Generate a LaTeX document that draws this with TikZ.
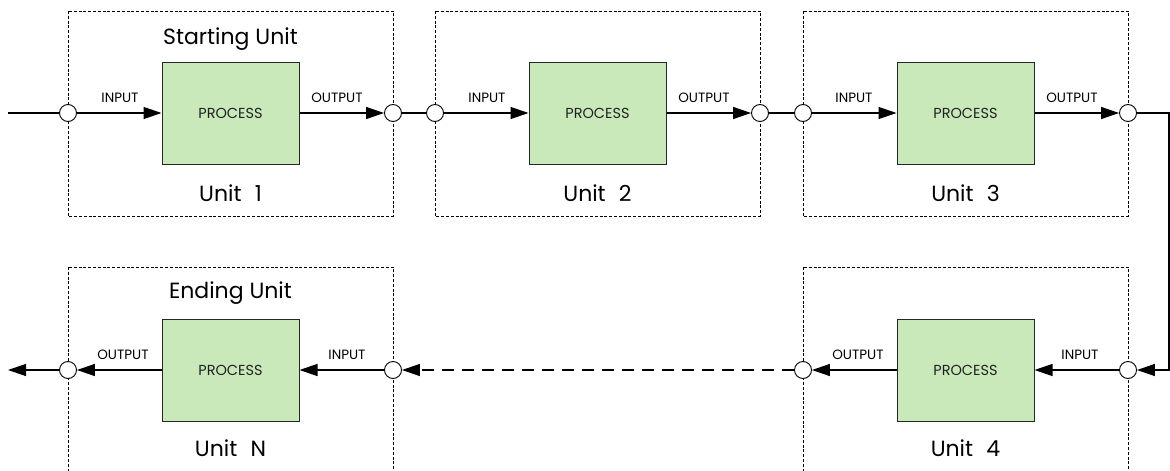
\documentclass[tikz,border=0pt]{standalone}
\usepackage{fontspec}
\setmainfont{Poppins}
\usetikzlibrary{arrows.meta}
\definecolor{procgreen}{HTML}{C9E9BA}
\definecolor{inkgray}{HTML}{222222}
\begin{document}
\begin{tikzpicture}[x=1pt,y=-1pt,
  unitbox/.style={draw=black, line width=0.8pt, dash pattern=on 3pt off 1.8pt},
  port/.style={circle, draw=black, fill=white, line width=0.9pt, inner sep=0pt, minimum size=17pt},
  proc/.style={draw=black!85, fill=procgreen, line width=1pt, minimum width=137pt, minimum height=102pt,
    inner sep=0pt, text=inkgray, font=\fontsize{14.5}{16}\selectfont},
  small/.style={inner sep=0pt, text=black, font=\fontsize{13.5}{15}\selectfont},
  title/.style={inner sep=0pt, text=black, font=\fontsize{22}{25}\selectfont},
  flow/.style={line width=1.3pt, draw=black},
  tip/.style={-{Triangle[length=18pt,width=12pt]}},
  link/.style={flow, dash pattern=on 12pt off 8pt}]

\useasboundingbox (0,0) rectangle (1170,471);
\clip (0,0) rectangle (1170,471);

% dashed unit frames
\draw[unitbox] (68,11) rectangle (393,216);
\draw[unitbox] (435,11) rectangle (760,216);
\draw[unitbox] (803,11) rectangle (1128,216);
\draw[unitbox] (803,267) rectangle (1128,520);
\draw[unitbox] (68,267) rectangle (393,520);

% process blocks
\node[proc] (b1) at (230.5,113) {PROCESS};
\node[proc] (b2) at (597.5,113) {PROCESS};
\node[proc] (b3) at (965.5,113) {PROCESS};
\node[proc] (b4) at (965.5,370) {PROCESS};
\node[proc] (bN) at (230.5,370) {PROCESS};

% unit titles
\node[title] (t1) at (230.5,39) {Starting Unit};
\node[title] (n1) at (230.5,193) {Unit\,\, 1};
\node[title] (n2) at (597.5,193) {Unit\,\, 2};
\node[title] (n3) at (965.5,193) {Unit\,\, 3};
\node[title] (n4) at (965.5,448) {Unit\,\, 4};
\node[title] (tN) at (230.5,293) {Ending Unit};
\node[title] (nN) at (230.5,448) {Unit\,\, N};

% port labels
\node[small] (i1) at (120,98) {INPUT};
\node[small] (o1) at (337,98) {OUTPUT};
\node[small] (i2) at (487,98) {INPUT};
\node[small] (o2) at (704,98) {OUTPUT};
\node[small] (i3) at (854,98) {INPUT};
\node[small] (o3) at (1072,98) {OUTPUT};
\node[small] (o4) at (858,355) {OUTPUT};
\node[small] (i4) at (1080,355) {INPUT};
\node[small] (oN) at (123,355) {OUTPUT};
\node[small] (iN) at (347,355) {INPUT};

% ports on the frame edges
\node[port] (p1l) at (68,113) {};
\node[port] (p1r) at (393,113) {};
\node[port] (p2l) at (435,113) {};
\node[port] (p2r) at (760,113) {};
\node[port] (p3l) at (803,113) {};
\node[port] (p3r) at (1128,113) {};
\node[port] (p4r) at (1128,370) {};
\node[port] (p4l) at (803,370) {};
\node[port] (pNr) at (393,370) {};
\node[port] (pNl) at (68,370) {};

% loose ends and the turn
\coordinate (start) at (8,113);
\coordinate (finish) at (8,370);
\coordinate (turn) at (1169,240);

% signal flow
\draw[flow] (start) -- (p1l);
\draw[flow,tip] (p1l) -- (b1);
\draw[flow,tip] (b1) -- (p1r);
\draw[flow] (p1r) -- (p2l);
\draw[flow,tip] (p2l) -- (b2);
\draw[flow,tip] (b2) -- (p2r);
\draw[flow] (p2r) -- (p3l);
\draw[flow,tip] (p3l) -- (b3);
\draw[flow,tip] (b3) -- (p3r);
\draw[flow] (p3r) -| (turn);
\draw[flow,tip] (turn) |- (p4r);
\draw[flow,tip] (p4r) -- (b4);
\draw[flow,tip] (b4) -- (p4l);
\draw[link,tip] (p4l) -- (pNr);
\draw[flow,tip] (pNr) -- (bN);
\draw[flow,tip] (bN) -- (pNl);
\draw[flow,tip] (pNl) -- (finish);
\end{tikzpicture}
\end{document}
